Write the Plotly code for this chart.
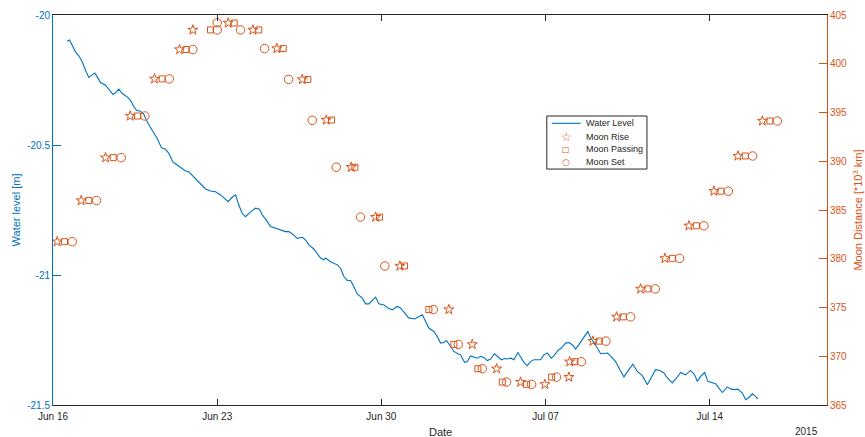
import pandas as pd
import plotly.graph_objects as go

# ---------------- data ----------------
start_date = "2015-06-16"

# water level: days since start, level [m]
wl_days = [0.606, 0.704, 0.819, 0.959, 1.100, 1.245, 1.416, 1.527, 1.642, 1.783, 1.885, 2.026, 2.239, 2.380,
           2.550, 2.665, 2.806, 2.951, 3.164, 3.305, 3.446, 3.561, 3.731, 3.872, 4.017, 4.230, 4.443, 4.627,
           4.797, 4.938, 5.109, 5.296, 5.480, 5.650, 5.791, 5.936, 6.077, 6.290, 6.503, 6.716, 6.930, 7.143,
           7.284, 7.471, 7.612, 7.783, 7.923, 8.068, 8.209, 8.422, 8.635, 8.806, 8.921, 9.092, 9.275, 9.488,
           9.701, 9.915, 10.055, 10.226, 10.413, 10.627, 10.768, 10.908, 11.122, 11.266, 11.407, 11.548,
           11.620, 11.834, 12.119, 12.260, 12.401, 12.546, 12.687, 12.827, 12.972, 13.185, 13.326, 13.467,
           13.612, 13.753, 13.893, 14.107, 14.277, 14.465, 14.678, 14.819, 15.160, 15.416, 15.744, 15.885,
           16.026, 16.239, 16.384, 16.525, 16.665, 16.780, 16.951, 17.092, 17.262, 17.377, 17.548, 17.663,
           17.804, 17.944, 18.089, 18.230, 18.371, 18.516, 18.657, 18.827, 18.968, 19.113, 19.254, 19.394,
           19.510, 19.650, 19.821, 19.936, 20.077, 20.222, 20.362, 20.503, 20.674, 20.789, 20.930, 21.075,
           21.245, 21.356, 21.527, 21.672, 21.855, 21.996, 22.141, 22.281, 22.422, 22.567, 22.708, 22.806,
           22.891, 23.036, 23.207, 23.348, 23.633, 23.774, 23.987, 24.170, 24.341, 24.554, 24.725, 24.913,
           25.126, 25.339, 25.510, 25.693, 25.876, 26.047, 26.192, 26.405, 26.589, 26.759, 26.972, 27.186,
           27.356, 27.471, 27.612, 27.783, 27.923, 28.111, 28.252, 28.392, 28.537, 28.750, 28.921, 29.062,
           29.203, 29.390, 29.531, 29.672, 29.817, 29.957, 30.055]
wl_level = [-20.101, -20.096, -20.116, -20.142, -20.157, -20.180, -20.219, -20.240, -20.232, -20.223, -20.238,
            -20.260, -20.270, -20.285, -20.305, -20.300, -20.285, -20.302, -20.315, -20.328, -20.353, -20.366,
            -20.370, -20.382, -20.411, -20.443, -20.475, -20.511, -20.516, -20.532, -20.565, -20.577, -20.590,
            -20.600, -20.603, -20.616, -20.631, -20.651, -20.669, -20.677, -20.680, -20.692, -20.703, -20.718,
            -20.703, -20.692, -20.731, -20.763, -20.776, -20.757, -20.743, -20.747, -20.769, -20.788, -20.814,
            -20.820, -20.827, -20.833, -20.833, -20.843, -20.859, -20.855, -20.865, -20.884, -20.900, -20.916,
            -20.935, -20.942, -20.935, -20.949, -20.961, -20.974, -21.006, -21.021, -21.021, -21.045, -21.073,
            -21.089, -21.111, -21.111, -21.096, -21.085, -21.111, -21.115, -21.127, -21.134, -21.121, -21.127,
            -21.165, -21.169, -21.153, -21.179, -21.204, -21.217, -21.237, -21.262, -21.260, -21.252, -21.275,
            -21.294, -21.303, -21.307, -21.336, -21.333, -21.311, -21.316, -21.320, -21.313, -21.317, -21.329,
            -21.323, -21.303, -21.316, -21.326, -21.321, -21.323, -21.320, -21.326, -21.298, -21.316, -21.336,
            -21.349, -21.333, -21.326, -21.326, -21.326, -21.307, -21.300, -21.320, -21.311, -21.290, -21.281,
            -21.262, -21.260, -21.268, -21.285, -21.268, -21.249, -21.230, -21.217, -21.237, -21.256, -21.281,
            -21.303, -21.300, -21.311, -21.333, -21.364, -21.392, -21.364, -21.343, -21.371, -21.387, -21.422,
            -21.396, -21.364, -21.367, -21.377, -21.396, -21.415, -21.396, -21.375, -21.384, -21.367, -21.384,
            -21.409, -21.390, -21.375, -21.409, -21.413, -21.418, -21.435, -21.452, -21.431, -21.439, -21.441,
            -21.439, -21.454, -21.480, -21.471, -21.457, -21.467, -21.476]

# moon events: days since start, distance [10^3 km]
rise_days = [0.179, 1.203, 2.239, 3.292, 4.328, 5.394, 5.962, 7.471, 8.520, 9.544, 10.627, 11.650, 12.716,
             13.753, 14.789, 16.878, 17.876, 18.913, 19.936, 20.972, 21.996, 22.026, 23.019, 24.030, 25.053,
             26.089, 27.113, 28.179, 29.203, 30.243]
rise_km = [381.75, 385.97, 390.37, 394.64, 398.45, 401.46, 403.47, 404.18, 403.47, 401.56, 398.39, 394.23,
           389.39, 384.27, 379.26, 374.79, 371.21, 368.72, 367.35, 367.12, 367.86, 369.44, 371.55, 374.04,
           376.91, 380.04, 383.38, 386.93, 390.54, 394.13]

pass_days = [0.490, 1.527, 2.567, 3.603, 4.657, 5.680, 6.716, 7.727, 8.776, 9.817, 10.866, 11.876, 12.870,
             13.923, 14.989, 16.026, 17.092, 18.115, 19.156, 20.192, 21.258, 22.252, 23.292, 24.316, 25.365,
             26.405, 27.429, 28.478, 29.518, 30.567]
pass_km = [381.75, 385.97, 390.37, 394.64, 398.45, 401.46, 403.47, 404.18, 403.47, 401.56, 398.39, 394.23,
           389.39, 384.27, 379.26, 374.79, 371.21, 368.72, 367.35, 367.12, 367.86, 369.44, 371.55, 374.04,
           376.91, 380.04, 383.38, 386.93, 390.54, 394.13]

set_days = [0.819, 1.855, 2.908, 3.915, 4.955, 5.962, 7.002, 7.002, 7.996, 9.019, 10.043, 11.053, 12.077,
            13.113, 14.149, 16.213, 17.279, 18.303, 19.339, 20.405, 21.471, 22.525, 23.573, 24.627, 25.680,
            26.716, 27.753, 28.793, 29.829, 30.883]
set_km = [381.75, 385.97, 390.37, 394.64, 398.45, 401.46, 403.47, 404.20, 403.47, 401.56, 398.39, 394.20,
          389.39, 384.27, 379.26, 374.79, 371.21, 368.72, 367.35, 367.12, 367.86, 369.44, 371.55, 374.04,
          376.91, 380.04, 383.38, 386.93, 390.54, 394.13]

series_names = ["Water Level", "Moon Rise", "Moon Passing", "Moon Set"]

x_tick_dates = ["2015-06-16", "2015-06-23", "2015-06-30", "2015-07-07", "2015-07-14"]
x_tick_text = ["Jun 16", "Jun 23", "Jun 30", "Jul 07", "Jul 14"]
x_range = ["2015-06-16", "2015-07-19"]
y_left_ticks = [-21.5, -21.0, -20.5, -20.0]
y_left_text = ["-21.5", "-21", "-20.5", "-20"]
y_right_ticks = [365, 370, 375, 380, 385, 390, 395, 400, 405]

# ---------------- figure ----------------
BLUE = "#0072BD"
ORANGE = "#D95319"
DARK = "#262626"
FONT = "Liberation Sans, Arial, Helvetica, sans-serif"
GLYPH_FONT = "DejaVu Sans"

base = pd.Timestamp(start_date)


def to_dt(days):
    return base + pd.to_timedelta(days, unit="D")


fig = go.Figure()
fig.add_trace(go.Scatter(x=to_dt(wl_days), y=wl_level, mode="lines", name=series_names[0],
                         line=dict(color=BLUE, width=1.1), yaxis="y", showlegend=False))
fig.add_trace(go.Scatter(x=to_dt(rise_days), y=rise_km, mode="markers", name=series_names[1],
                         marker=dict(symbol="star-open", size=7.5, color=ORANGE, line=dict(width=1, color=ORANGE)),
                         yaxis="y2", showlegend=False))
fig.add_trace(go.Scatter(x=to_dt(pass_days), y=pass_km, mode="markers", name=series_names[2],
                         marker=dict(symbol="square-open", size=6, color=ORANGE, line=dict(width=1, color=ORANGE)),
                         yaxis="y2", showlegend=False))
fig.add_trace(go.Scatter(x=to_dt(set_days), y=set_km, mode="markers", name=series_names[3],
                         marker=dict(symbol="circle-open", size=8.5, color=ORANGE, line=dict(width=1, color=ORANGE)),
                         yaxis="y2", showlegend=False))

# compact legend box (MATLAB style), placed in paper coordinates
lg_x0, lg_x1, lg_top, lg_bot = 0.638, 0.7674, 0.741, 0.605
lg_rows = [0.7223, 0.6879, 0.6564, 0.6238]
lg_text_x = 0.6864
lg_sym_x = 0.6628
shapes = [
    dict(type="rect", xref="paper", yref="paper", x0=lg_x0, x1=lg_x1, y0=lg_bot, y1=lg_top,
         line=dict(color=DARK, width=1), fillcolor="white", layer="above"),
    dict(type="line", xref="paper", yref="paper", x0=0.6443, x1=0.6818, y0=lg_rows[0], y1=lg_rows[0],
         line=dict(color=BLUE, width=1.1), layer="above"),
]
annotations = [
    dict(text="Date", xref="paper", yref="paper", x=0.5, y=-0.068, showarrow=False,
         xanchor="center", yanchor="middle", font=dict(family=FONT, size=11, color=DARK)),
    dict(text="2015", xref="paper", yref="paper", x=0.973, y=-0.068, showarrow=False,
         xanchor="center", yanchor="middle", font=dict(family=FONT, size=10, color=DARK)),
]
for name, ry in zip(series_names, lg_rows):
    annotations.append(dict(text=name, xref="paper", yref="paper", x=lg_text_x, y=ry, showarrow=False,
                            xanchor="left", yanchor="middle", font=dict(family=FONT, size=9, color=DARK)))
for glyph, gsize, ry in zip(["\u2606", "\u25a1", "\u25cb"], [12, 8, 9], lg_rows[1:]):
    annotations.append(dict(text=glyph, xref="paper", yref="paper", x=lg_sym_x, y=ry, showarrow=False,
                            xanchor="center", yanchor="middle",
                            font=dict(family=GLYPH_FONT, size=gsize, color=ORANGE)))

fig.update_layout(
    width=865, height=437,
    margin=dict(l=53, r=38, t=15, b=32),
    paper_bgcolor="white", plot_bgcolor="white",
    font=dict(family=FONT, size=10, color=DARK),
    showlegend=False,
    shapes=shapes,
    annotations=annotations,
    xaxis=dict(type="date", range=x_range, tickvals=x_tick_dates, ticktext=x_tick_text,
               showgrid=False, zeroline=False, showline=True, linecolor=DARK, linewidth=1,
               mirror="ticks", ticks="inside", ticklen=6, tickcolor=DARK, ticklabelstandoff=2,
               tickfont=dict(family=FONT, size=10, color=DARK), automargin=False),
    yaxis=dict(range=[-21.5, -20.0], tickvals=y_left_ticks, ticktext=y_left_text,
               showgrid=False, zeroline=False, showline=True, linecolor=BLUE, linewidth=1,
               ticks="inside", ticklen=8, tickcolor=BLUE,
               tickfont=dict(family=FONT, size=10, color=BLUE),
               title=dict(text="Water level [m]", font=dict(family=FONT, size=11, color=BLUE), standoff=4),
               automargin=False),
    yaxis2=dict(range=[365, 405], tickvals=y_right_ticks, overlaying="y", side="right",
                showgrid=False, zeroline=False, showline=True, linecolor=ORANGE, linewidth=1,
                ticks="inside", ticklen=8, tickcolor=ORANGE,
                tickfont=dict(family=FONT, size=10, color=ORANGE),
                title=dict(text="Moon Distance [*10<sup>3</sup> km]", font=dict(family=FONT, size=11, color=ORANGE),
                           standoff=8),
                automargin=False),
)

fig.write_html("out.html", config={"displayModeBar": False},
               post_script="document.body.style.margin='0px';")
